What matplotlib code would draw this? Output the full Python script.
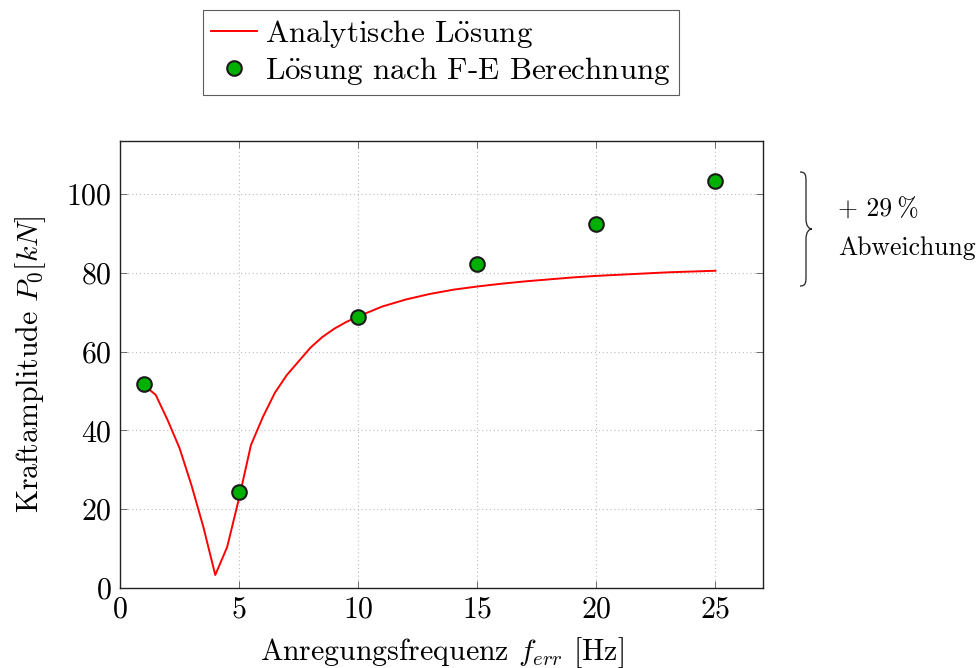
import matplotlib
matplotlib.use("Agg")
import matplotlib.pyplot as plt
from matplotlib.path import Path
from matplotlib.patches import PathPatch

plt.rcParams['font.family'] = ['cmr10', 'DejaVu Serif']
plt.rcParams['mathtext.fontset'] = 'cm'
plt.rcParams['axes.formatter.use_mathtext'] = True
plt.rcParams['axes.unicode_minus'] = False

# Analytical solution
f_analytic = [1, 1.5, 2, 2.5, 3, 3.5, 4, 4.5, 5, 5.5, 6, 6.5, 7, 7.5, 8, 8.5, 9, 9.5, 10,
              11, 12, 13, 14, 15, 16, 17, 18, 19, 20, 21, 22, 23, 24, 25]
p_analytic = [51.5, 49.0, 42.6, 35.5, 26.1, 15.5, 3.3, 10.4, 22.8, 36.3, 43.4, 49.5, 54.0,
              57.5, 61.0, 63.7, 65.8, 67.5, 68.9, 71.4, 73.2, 74.6, 75.7, 76.5, 77.2, 77.8,
              78.3, 78.8, 79.2, 79.5, 79.8, 80.1, 80.3, 80.5]

# FE results
f_fe = [1, 5, 10, 15, 20, 25]
p_fe = [51.8, 24.4, 68.8, 82.2, 92.4, 103.3]

x_ticks = [0, 5, 10, 15, 20, 25]
y_ticks = [0, 20, 40, 60, 80, 100]

W, H = 978, 668
FS = 21.5
fig = plt.figure(figsize=(W / 100, H / 100), dpi=100)
ax = fig.add_axes([120 / W, 1 - 588 / H, (763 - 120) / W, (588 - 140.7) / H])

line, = ax.plot(f_analytic, p_analytic, color='#ff0000', lw=1.4, zorder=3)
pts, = ax.plot(f_fe, p_fe, 'o', ms=10.5, mfc='#00b000', mec='#1a1a1a', mew=1.5,
               zorder=4, linestyle='none')

ax.set_xlim(0, 27)
ax.set_ylim(0, 113.5)
ax.set_xticks(x_ticks)
ax.set_yticks(y_ticks)
ax.tick_params(direction='in', top=True, right=True, length=5, width=0.6,
               color='#555555', labelsize=FS, pad=6)
ax.grid(True, linestyle=(0, (1, 2.5)), color='#bbbbbb', lw=0.8)
for s in ax.spines.values():
    s.set_linewidth(1.0)
    s.set_color('#222222')

ax.set_xlabel(r'Anregungsfrequenz $f_{err}$ [Hz]', fontsize=FS, labelpad=8)
ax.set_ylabel(r'Kraftamplitude $P_0[kN]$', fontsize=FS, labelpad=13)

lab1 = r'Analytische L$\ddot{\mathrm{o}}$sung'
lab2 = r'L$\ddot{\mathrm{o}}$sung nach F-E Berechnung'
leg = fig.legend([line, pts], [lab1, lab2],
                 loc='upper left', bbox_to_anchor=(203 / W, 1 - 10 / H),
                 fontsize=22.4, frameon=True, fancybox=False, edgecolor='#333333',
                 handlelength=1.5, handletextpad=0.25, borderpad=0.25,
                 labelspacing=0.18, borderaxespad=0)
leg.get_frame().set_linewidth(0.8)

# Curly brace in figure pixel coordinates (converted to figure fraction)
def P(x, y):
    return (x / W, 1 - y / H)

x0, xm, xt = 800, 806, 812
yt, yc, yb = 172, 229, 286
verts = [P(x0, yt),
         P(xm, yt), P(xm, yt + 4), P(xm, yt + 10),
         P(xm, yc - 10),
         P(xm, yc - 3), P(xm + 3, yc), P(xt, yc),
         P(xm + 3, yc), P(xm, yc + 3), P(xm, yc + 10),
         P(xm, yb - 10),
         P(xm, yb - 4), P(xm, yb), P(x0, yb)]
codes = [Path.MOVETO,
         Path.CURVE4, Path.CURVE4, Path.CURVE4,
         Path.LINETO,
         Path.CURVE4, Path.CURVE4, Path.CURVE4,
         Path.CURVE4, Path.CURVE4, Path.CURVE4,
         Path.LINETO,
         Path.CURVE4, Path.CURVE4, Path.CURVE4]
brace = PathPatch(Path(verts, codes), transform=fig.transFigure, fill=False,
                  lw=0.9, edgecolor='#222222')
fig.patches.append(brace)

fig.text(838 / W, 1 - 210 / H, '+ 29\u2009%', fontsize=18.5, va='center', ha='left')
fig.text(838 / W, 1 - 248 / H, 'Abweichung', fontsize=18.5, va='center', ha='left')

fig.savefig('out.png', dpi=100)
